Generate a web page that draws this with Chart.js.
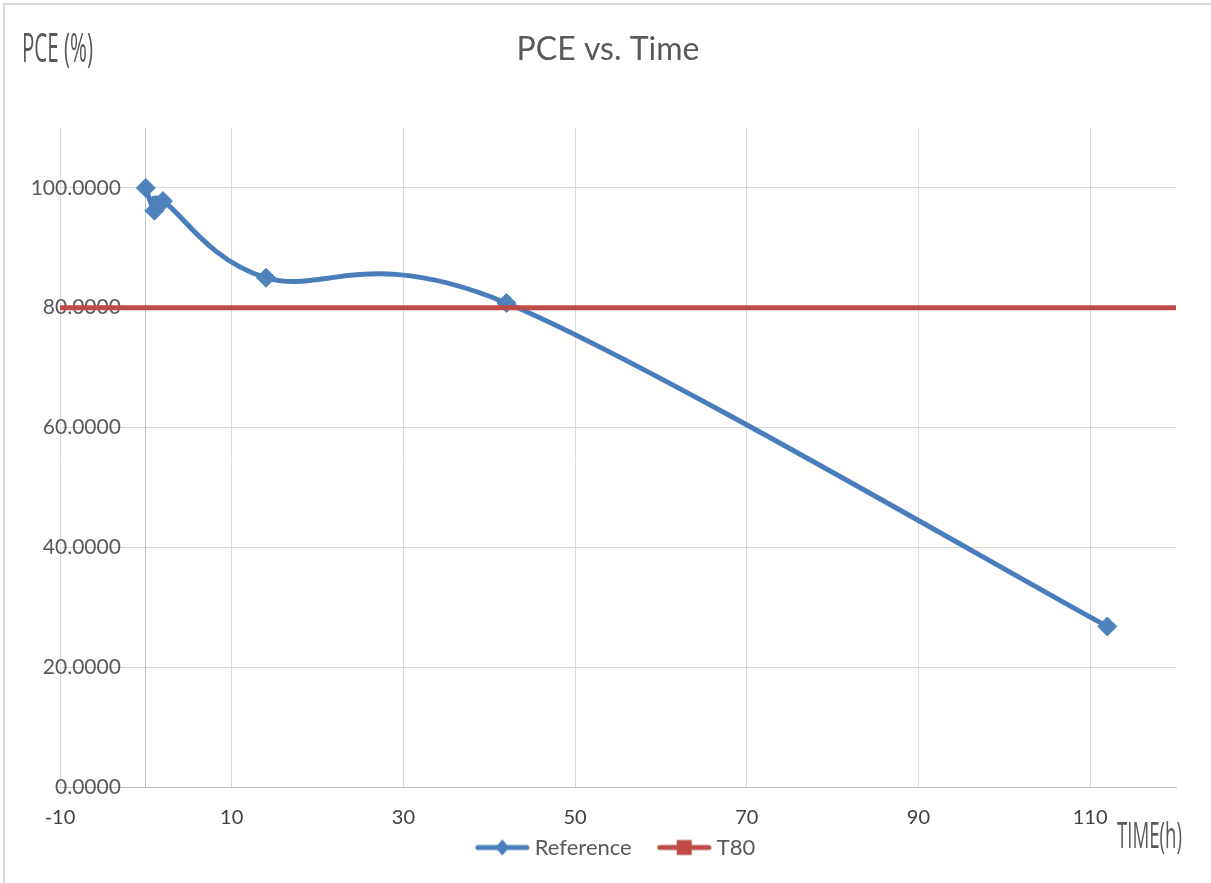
<!DOCTYPE html>
<html>
<head>
<meta charset="utf-8">
<title>PCE vs. Time</title>
<script src="https://cdn.jsdelivr.net/npm/chart.js@4.4.1/dist/chart.umd.min.js"></script>
<style>
  html, body { margin: 0; padding: 0; background: #ffffff; }
  #chart { display: block; }
</style>
</head>
<body>
<canvas id="chart" width="1211" height="883"></canvas>
<script>
// Aging measurement: power conversion efficiency over time
const TIME_H = [0, 1, 2, 14, 42, 112];
const PCE = [100, 96.2, 97.8, 85, 80.8, 26.8];

// T80 threshold line (80 % of the initial PCE)
const T80_X = [-10, 120];
const T80_Y = [80, 80];

// Axis ticks
const X_TICKS = [-10, 10, 30, 50, 70, 90, 110];
const Y_TICKS = [0, 20, 40, 60, 80, 100];
const Y_CROSS_AT = 0;   // the vertical axis crosses the time axis at t = 0

const SERIES_NAMES = ['Reference', 'T80'];
const TITLE = 'PCE vs. Time';
const Y_TITLE = 'PCE (%)';
const X_TITLE = 'TIME(h)';

const BLUE = '#4A7EBB';
const BLUE_FILL = '#4F81BD';
const RED = '#BE4B48';
const TEXT = '#595959';
const GRID = '#d9d9d9';
const AXIS = '#bfbfbf';
const FONT = 'Lato, "Open Sans", sans-serif';

// Legend icons: a short line with the series marker on top
function legendIcon(color, marker) {
  const c = document.createElement('canvas');
  c.width = 55; c.height = 18;
  const g = c.getContext('2d');
  g.strokeStyle = color; g.lineWidth = 5; g.lineCap = 'round';
  g.beginPath(); g.moveTo(3, 9); g.lineTo(52, 9); g.stroke();
  g.fillStyle = color;
  g.beginPath();
  if (marker === 'diamond') {
    g.moveTo(27.5, 1); g.lineTo(34.5, 9); g.lineTo(27.5, 17); g.lineTo(20.5, 9);
  } else {
    g.rect(20, 1.5, 15, 15);
  }
  g.closePath(); g.fill();
  return c;
}
const LEGEND_ICONS = [legendIcon(BLUE, 'diamond'), legendIcon(RED, 'square')];

// Smoothed line: uniform Catmull-Rom control points (neighbour chord / 6)
const catmullRom = {
  id: 'catmullRom',
  beforeDatasetDraw(chart, args) {
    const line = args.meta.dataset;
    if (!line || !line.options.tension) return;
    const pts = args.meta.data;
    const n = pts.length;
    for (let i = 0; i < n; i++) {
      const p = pts[i];
      const prev = pts[Math.max(i - 1, 0)];
      const next = pts[Math.min(i + 1, n - 1)];
      const dx = (next.x - prev.x) / 6;
      const dy = (next.y - prev.y) / 6;
      p.cp1x = p.x - dx; p.cp1y = p.y - dy;
      p.cp2x = p.x + dx; p.cp2y = p.y + dy;
    }
    line._pointsUpdated = true;
    line._path = undefined;
  }
};

// Vertical axis crosses at t = 0; its labels sit just left of that line.
// The time axis labels are allowed to hang below the slim axis box.
const axisPlacement = {
  id: 'axisPlacement',
  afterLayout(chart) {
    const x = chart.scales.x;
    const y = chart.scales.y;
    y.left = 0;
    y.right = x.getPixelForValue(Y_CROSS_AT);
    x.bottom = chart.height;
  }
};

// Outer frame and the condensed axis titles
function condensedText(ctx, text, x, baseline, size, width) {
  ctx.save();
  ctx.font = size + 'px "Open Sans", sans-serif';
  ctx.fillStyle = TEXT;
  ctx.textBaseline = 'alphabetic';
  ctx.textAlign = 'left';
  const w = ctx.measureText(text).width;
  ctx.translate(x, baseline);
  ctx.scale(width / w, 1);
  ctx.fillText(text, 0, 0);
  ctx.restore();
}
const decorations = {
  id: 'decorations',
  afterDraw(chart) {
    const ctx = chart.ctx;
    ctx.save();
    ctx.strokeStyle = GRID;
    ctx.lineWidth = 2;
    ctx.strokeRect(4, 4, chart.width + 20, chart.height + 20);
    ctx.restore();
    condensedText(ctx, Y_TITLE, 22, 62, 40, 71);
    condensedText(ctx, X_TITLE, 1117, 848, 36, 65);
  }
};

new Chart(document.getElementById('chart'), {
  type: 'line',
  data: {
    datasets: [
      {
        label: SERIES_NAMES[0],
        data: TIME_H.map((t, i) => ({ x: t, y: PCE[i] })),
        borderColor: BLUE,
        borderWidth: 5,
        backgroundColor: BLUE_FILL,
        pointStyle: 'rectRot',
        pointRadius: 9.5,
        pointBackgroundColor: BLUE_FILL,
        pointBorderColor: BLUE_FILL,
        pointBorderWidth: 1,
        tension: 0.4,
        fill: false,
        order: 1
      },
      {
        label: SERIES_NAMES[1],
        data: T80_X.map((t, i) => ({ x: t, y: T80_Y[i] })),
        borderColor: RED,
        borderWidth: 5,
        backgroundColor: RED,
        pointRadius: 0,
        tension: 0,
        fill: false,
        order: 0
      }
    ]
  },
  options: {
    responsive: false,
    animation: false,
    devicePixelRatio: 1,
    layout: { padding: { left: 40, right: 35, top: 0, bottom: 14.5 } },
    scales: {
      x: {
        type: 'linear',
        position: 'bottom',
        min: -10,
        max: 120,
        afterBuildTicks: s => { s.ticks = X_TICKS.map(v => ({ value: v })); },
        afterFit: s => { s.height = 18.5; },
        grid: { color: GRID, lineWidth: 1, drawTicks: false },
        border: { color: AXIS, width: 1 },
        ticks: {
          autoSkip: false, maxRotation: 0, padding: 19,
          color: '#404040', font: { family: FONT, size: 20 },
          callback: v => String(v)
        }
      },
      y: {
        type: 'linear',
        position: 'left',
        min: 0,
        max: 110,
        afterBuildTicks: s => { s.ticks = Y_TICKS.map(v => ({ value: v })); },
        afterFit: s => { s.width = 20; },
        grid: { color: GRID, lineWidth: 1, drawTicks: false },
        border: { display: true, color: AXIS, width: 1 },
        ticks: {
          padding: 25,
          color: TEXT, font: { family: FONT, size: 21 },
          callback: v => Number(v).toFixed(4)
        }
      }
    },
    plugins: {
      title: {
        display: true,
        text: TITLE,
        color: TEXT,
        font: { family: FONT, size: 32, weight: 'normal', lineHeight: 1.2 },
        padding: { top: 30.8, bottom: 58.8 }
      },
      legend: {
        display: true,
        position: 'bottom',
        fullSize: false,
        labels: {
          usePointStyle: true,
          pointStyleWidth: 43,
          padding: 31,
          color: TEXT,
          font: { family: FONT, size: 22 },
          sort: (a, b) => a.datasetIndex - b.datasetIndex,
          generateLabels: chart => Chart.defaults.plugins.legend.labels.generateLabels(chart)
            .map(item => Object.assign(item, { pointStyle: LEGEND_ICONS[item.datasetIndex] }))
        }
      },
      tooltip: { enabled: false }
    }
  },
  plugins: [catmullRom, axisPlacement, decorations]
});
</script>
</body>
</html>
